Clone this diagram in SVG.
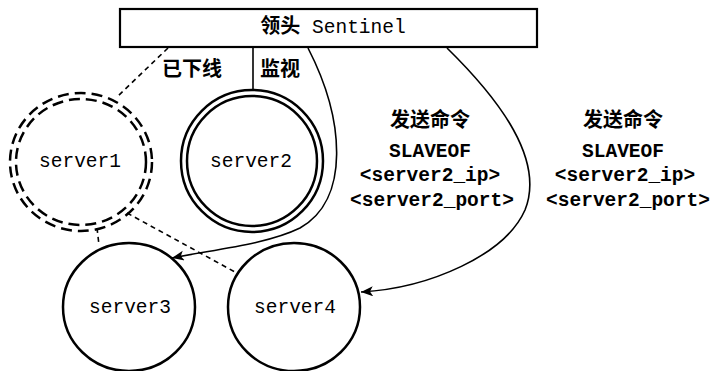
<svg xmlns="http://www.w3.org/2000/svg" width="718" height="371" viewBox="0 0 718 371">
<style>
.mono{font-family:"Liberation Mono","DejaVu Sans Mono",monospace;font-size:19.5px;fill:#000}
.b{font-weight:bold}
.cjk{font-family:"Noto Sans CJK SC","Noto Sans CJK JP",sans-serif;font-size:20px;font-weight:bold;fill:#000}
.node{fill:none;stroke:#000;stroke-width:2.5}
.dashed{fill:none;stroke:#000;stroke-width:2.5;stroke-dasharray:11 6}
.conn{fill:none;stroke:#000;stroke-width:1.6}
.dconn{fill:none;stroke:#000;stroke-width:1.6;stroke-dasharray:5 4}
</style>
<defs>
<marker id="arr" markerUnits="userSpaceOnUse" markerWidth="14" markerHeight="12" refX="12" refY="5" orient="auto">
<path d="M0,0 L12,5 L0,10 L3,5 z" fill="#000"/>
</marker>
</defs>
<rect width="718" height="371" fill="#fff"/>
<g id="connectors">
<path class="conn" d="M253,48 L253,90"/>
<path class="dconn" d="M168,48 L117,97"/>
<path class="dconn" d="M97,228 L99,245"/>
<path class="dconn" d="M127,213 L235,272"/>
<path class="conn" d="M308,48 C345,120 350,200 300,228 C265,245 210,250 172,258" marker-end="url(#arr)"/>
<path class="conn" d="M447,48 C500,100 545,160 525,210 C505,255 430,288 361,292" marker-end="url(#arr)"/>
</g>
<g id="sentinel">
<rect x="120" y="9" width="417" height="38" fill="#fff" stroke="#000" stroke-width="2.2"/>
<text x="333" y="33" text-anchor="middle"><tspan class="cjk">领头</tspan><tspan class="mono"> Sentinel</tspan></text>
</g>
<g id="labels">
<text class="cjk" x="162" y="76">已下线</text>
<text class="cjk" x="260" y="76">监视</text>
</g>
<g id="server1">
<ellipse class="dashed" cx="81" cy="162" rx="71" ry="69"/>
<ellipse class="dashed" cx="81" cy="162" rx="65" ry="63"/>
<text class="mono" x="80" y="167" text-anchor="middle">server1</text>
</g>
<g id="server2">
<circle class="node" cx="252" cy="161" r="71"/>
<circle class="node" cx="252" cy="161" r="65"/>
<text class="mono" x="251" y="167" text-anchor="middle">server2</text>
</g>
<g id="server3">
<ellipse class="node" cx="129" cy="307" rx="66" ry="64"/>
<text class="mono" x="130" y="313" text-anchor="middle">server3</text>
</g>
<g id="server4">
<ellipse class="node" cx="294" cy="307" rx="66" ry="64"/>
<text class="mono" x="295" y="313" text-anchor="middle">server4</text>
</g>
<g id="cmd1" text-anchor="middle">
<text class="cjk" x="430" y="127">发送命令</text>
<text class="mono b" x="430" y="157">SLAVEOF</text>
<text class="mono b" x="430" y="181">&lt;server2_ip&gt;</text>
<text class="mono b" x="432" y="206">&lt;server2_port&gt;</text>
</g>
<g id="cmd2" text-anchor="middle">
<text class="cjk" x="623" y="127">发送命令</text>
<text class="mono b" x="623" y="157">SLAVEOF</text>
<text class="mono b" x="625" y="181">&lt;server2_ip&gt;</text>
<text class="mono b" x="628" y="206">&lt;server2_port&gt;</text>
</g>
</svg>
